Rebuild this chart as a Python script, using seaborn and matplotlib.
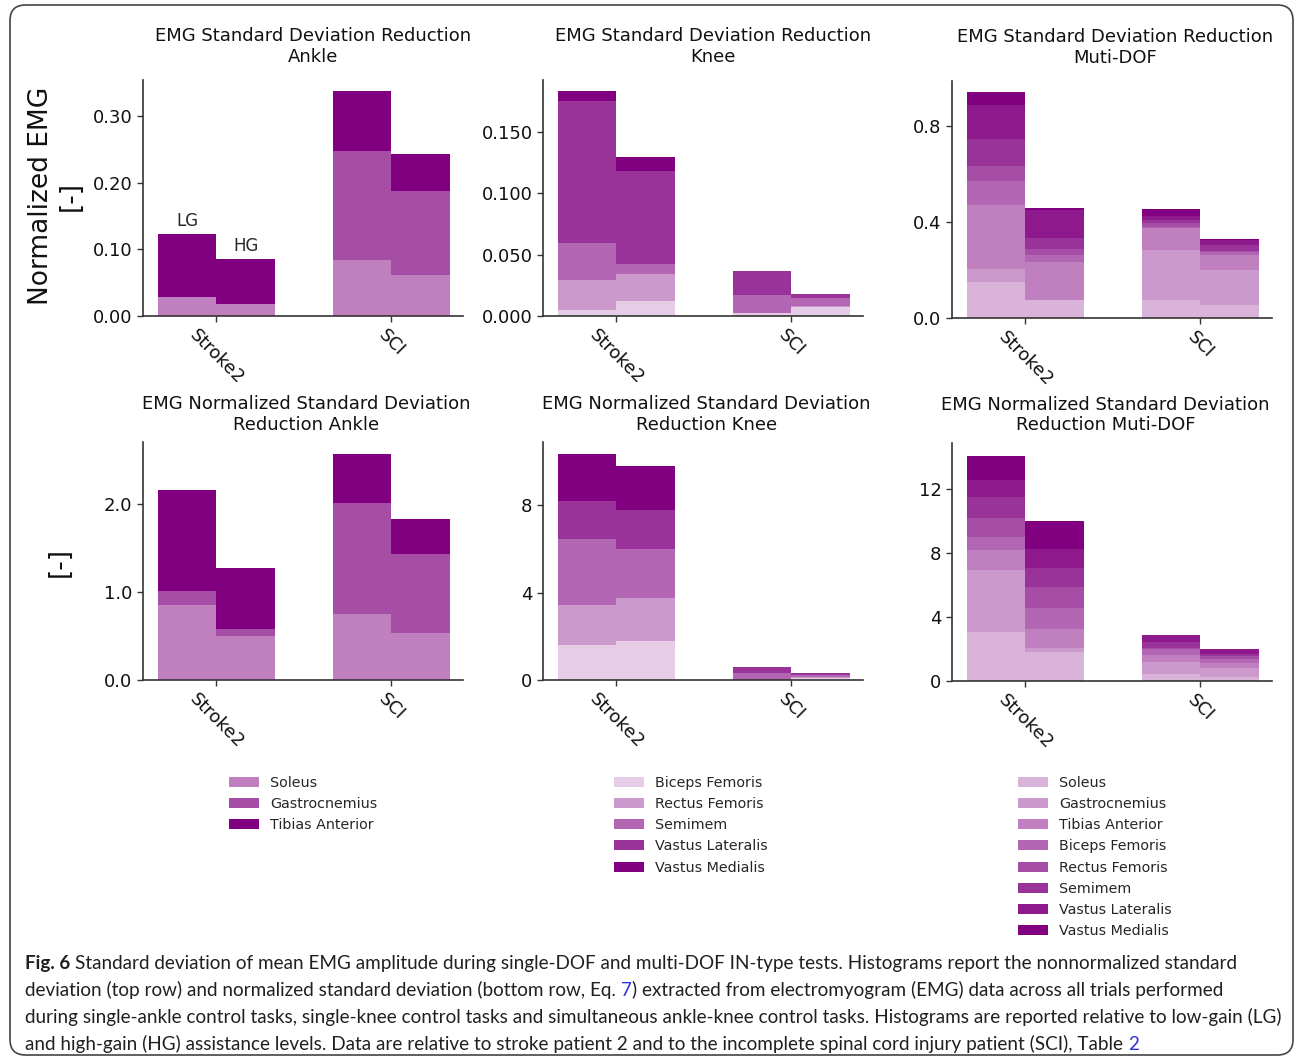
import numpy as np
import pandas as pd
import matplotlib
matplotlib.use("Agg")
import matplotlib.pyplot as plt
from matplotlib.patches import Patch, FancyBboxPatch
from matplotlib.ticker import FormatStrFormatter
import seaborn as sns

groups = ["Stroke2", "SCI"]
gains = ["LG", "HG"]

ankle_muscles = ["Soleus", "Gastrocnemius", "Tibias Anterior"]
knee_muscles = ["Biceps Femoris", "Rectus Femoris", "Semimem",
                "Vastus Lateralis", "Vastus Medialis"]
multi_muscles = ["Soleus", "Gastrocnemius", "Tibias Anterior", "Biceps Femoris",
                 "Rectus Femoris", "Semimem", "Vastus Lateralis", "Vastus Medialis"]

# each row = one muscle, columns = Stroke2 LG, Stroke2 HG, SCI LG, SCI HG
ankle_sd = [[0.029, 0.018, 0.084, 0.0615],
            [0.000, 0.000, 0.1635, 0.126],
            [0.094, 0.0675, 0.090, 0.0555]]
knee_sd = [[0.0049, 0.0122, 0.0024, 0.0073],
           [0.0244, 0.0220, 0.0000, 0.0008],
           [0.0301, 0.0081, 0.0147, 0.0065],
           [0.1156, 0.0757, 0.0195, 0.0033],
           [0.0080, 0.0115, 0.0000, 0.0000]]
multi_sd = [[0.149, 0.075, 0.075, 0.054],
            [0.057, 0.001, 0.209, 0.146],
            [0.264, 0.159, 0.092, 0.063],
            [0.099, 0.029, 0.002, 0.011],
            [0.062, 0.025, 0.017, 0.006],
            [0.113, 0.045, 0.015, 0.022],
            [0.142, 0.114, 0.013, 0.023],
            [0.054, 0.012, 0.033, 0.002]]

ankle_norm = [[0.848, 0.500, 0.746, 0.534],
              [0.167, 0.083, 1.261, 0.890],
              [1.135, 0.682, 0.553, 0.398]]
knee_norm = [[1.59, 1.79, 0.00, 0.09],
             [1.83, 1.97, 0.00, 0.06],
             [3.02, 2.22, 0.30, 0.08],
             [1.78, 1.79, 0.31, 0.10],
             [2.11, 2.01, 0.00, 0.00]]
multi_norm = [[3.06, 1.81, 0.44, 0.25],
              [3.84, 0.25, 0.75, 0.56],
              [1.27, 1.18, 0.43, 0.31],
              [0.81, 1.31, 0.38, 0.25],
              [1.19, 1.31, 0.08, 0.19],
              [1.31, 1.19, 0.33, 0.14],
              [1.06, 1.18, 0.46, 0.30],
              [1.50, 1.75, 0.00, 0.00]]


def purple(a):
    base = np.array([128, 0, 128]) / 255.0
    return tuple(1 - a * (1 - base))


ankle_colors = [purple(a) for a in [0.5, 0.7, 1.0]]
knee_colors = [purple(a) for a in [0.2, 0.4, 0.6, 0.8, 1.0]]
multi_colors = [purple(a) for a in [0.3, 0.4, 0.5, 0.6, 0.7, 0.8, 0.9, 1.0]]

sns.set_style("ticks")
plt.rcParams["font.family"] = ["DejaVu Sans"]
plt.rcParams["axes.edgecolor"] = "#333333"
plt.rcParams["xtick.color"] = "#333333"
plt.rcParams["ytick.color"] = "#333333"

W, H = 1295, 1061
fig = plt.figure(figsize=(W / 100, H / 100), dpi=100)


def make_ax(left, top, bottom, width=320):
    return fig.add_axes([left / W, 1 - bottom / H, width / W, (bottom - top) / H])


def draw_panel(ax, segs, colors, title, ymax, ticks, fmt, title_x=0.5, pad=13):
    tops = np.cumsum(np.array(segs), axis=0)
    # draw tallest (cumulative) layer first so lower layers sit on top
    for i in range(len(segs) - 1, -1, -1):
        df = pd.DataFrame({"group": np.repeat(groups, 2),
                           "gain": gains * 2,
                           "value": tops[i]})
        sns.barplot(data=df, x="group", y="value", hue="gain", hue_order=gains,
                    palette=[colors[i], colors[i]], width=0.67, errorbar=None,
                    saturation=1, linewidth=0, legend=False, ax=ax)
    ax.set_xlim(-0.42, 1.41)
    ax.set_ylim(0, ymax)
    ax.set_yticks(ticks)
    ax.yaxis.set_major_formatter(FormatStrFormatter(fmt))
    ax.set_xlabel("")
    ax.set_ylabel("")
    ax.set_title(title, fontsize=13, pad=pad, color="#111111", x=title_x)
    ax.tick_params(axis="both", labelsize=13, length=4, width=1, labelcolor="#111111")
    for lab in ax.get_xticklabels():
        lab.set_rotation(-45)
    for s in ["left", "bottom"]:
        ax.spines[s].set_linewidth(1.2)
    sns.despine(ax=ax)
    return tops


lefts = [143, 543, 952]
ax1 = make_ax(lefts[0], 80, 316)
tops = draw_panel(ax1, ankle_sd, ankle_colors,
                  "EMG Standard Deviation Reduction\nAnkle", 0.354,
                  [0, 0.1, 0.2, 0.3], "%.2f", title_x=0.53)
ax1.text(-0.1675, tops[-1][0] + 0.006, "LG", ha="center", va="bottom", fontsize=12)
ax1.text(0.1675, tops[-1][1] + 0.006, "HG", ha="center", va="bottom", fontsize=12)

ax2 = make_ax(lefts[1], 80, 316)
draw_panel(ax2, knee_sd, knee_colors,
           "EMG Standard Deviation Reduction\nKnee", 0.192,
           [0, 0.05, 0.1, 0.15], "%.3f", title_x=0.53)

ax3 = make_ax(lefts[2], 81, 318)
draw_panel(ax3, multi_sd, multi_colors,
           "EMG Standard Deviation Reduction\nMuti-DOF", 0.987,
           [0, 0.4, 0.8], "%.1f", title_x=0.51)

ax4 = make_ax(lefts[0], 442, 680)
draw_panel(ax4, ankle_norm, ankle_colors,
           "EMG Normalized Standard Deviation\nReduction Ankle", 2.70,
           [0, 1, 2], "%.1f", title_x=0.51, pad=9)

ax5 = make_ax(lefts[1], 442, 680)
draw_panel(ax5, knee_norm, knee_colors,
           "EMG Normalized Standard Deviation\nReduction Knee", 10.9,
           [0, 4, 8], "%d", title_x=0.51, pad=9)

ax6 = make_ax(lefts[2], 443, 681)
draw_panel(ax6, multi_norm, multi_colors,
           "EMG Normalized Standard Deviation\nReduction Muti-DOF", 14.85,
           [0, 4, 8, 12], "%d", title_x=0.48, pad=9)

fig.text(56 / W, 1 - 196 / H, "Normalized EMG\n[-]", rotation=90, ha="center",
         va="center", multialignment="center", fontsize=19, color="#111111")
fig.text(60 / W, 1 - 562 / H, "[-]", rotation=90, ha="center", va="center",
         fontsize=19, color="#111111")

# legends under each column
for names, cols, lx in [(ankle_muscles, ankle_colors, 229),
                        (knee_muscles, knee_colors, 614),
                        (multi_muscles, multi_colors, 1018)]:
    handles = [Patch(facecolor=c, edgecolor="none", label=n) for n, c in zip(names, cols)]
    fig.legend(handles=handles, loc="upper left", bbox_to_anchor=(lx / W, 1 - 776 / H),
               frameon=False, fontsize=10.3, handlelength=2.1, handleheight=0.7,
               labelspacing=0.5, handletextpad=0.75, borderpad=0, borderaxespad=0)

# outer rounded frame
frame = FancyBboxPatch((10 / W, 6 / H), 1283 / W, 1050 / H,
                       boxstyle="round,pad=0,rounding_size=0.012",
                       mutation_aspect=W / H, transform=fig.transFigure,
                       facecolor="none", edgecolor="#444444", linewidth=1.2)
fig.patches.append(frame)

# caption
cap_size = 13.6
cap_font = "Lato"
dark = "#231f20"
blue = "#3030e0"
cap_lines = [
    [("Fig. 6", "bold", dark, False),
     ("Standard deviation of mean EMG amplitude during single-DOF and multi-DOF IN-type tests. Histograms report the nonnormalized standard", "normal", dark, True)],
    [("deviation (top row) and normalized standard deviation (bottom row, Eq.", "normal", dark, False),
     ("7", "normal", blue, True),
     (") extracted from electromyogram (EMG) data across all trials performed", "normal", dark, False)],
    [("during single-ankle control tasks, single-knee control tasks and simultaneous ankle-knee control tasks. Histograms are reported relative to low-gain (LG)", "normal", dark, False)],
    [("and high-gain (HG) assistance levels. Data are relative to stroke patient 2 and to the incomplete spinal cord injury patient (SCI), Table", "normal", dark, False),
     ("2", "normal", blue, True)],
]
renderer = fig.canvas.get_renderer()
t1 = fig.text(0, 0, "aa", fontsize=cap_size, family=cap_font)
t2 = fig.text(0, 0, "a a", fontsize=cap_size, family=cap_font)
space_w = t2.get_window_extent(renderer).width - t1.get_window_extent(renderer).width
t1.remove()
t2.remove()

for k, pieces in enumerate(cap_lines):
    x = 25
    y = 969 + 27 * k
    for txt, weight, color, gap in pieces:
        if gap:
            x += space_w
        t = fig.text(x / W, 1 - y / H, txt, fontsize=cap_size, family=cap_font,
                     weight=weight, color=color, ha="left", va="baseline")
        x += t.get_window_extent(renderer).width

fig.savefig("out.png", dpi=100)
